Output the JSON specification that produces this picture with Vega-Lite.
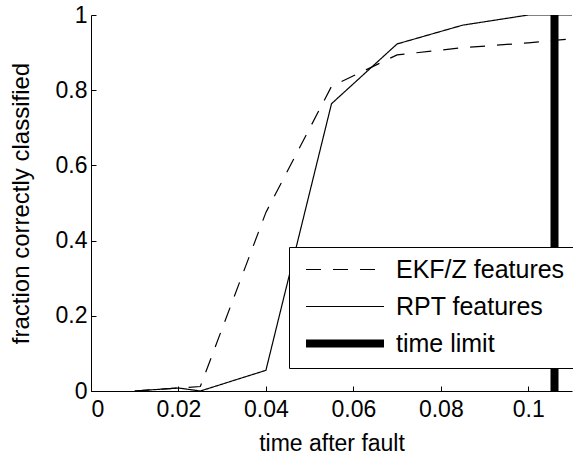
{
  "$schema": "https://vega.github.io/schema/vega-lite/v6.json",
  "width": 481,
  "height": 376,
  "autosize": {"type": "none"},
  "padding": {"left": 91, "top": 15, "right": 1, "bottom": 66},
  "background": "white",
  "config": {"view": {"stroke": null}, "font": "Liberation Sans"},
  "data": {
    "values": [
      {"t": 0.01, "f": 0.0, "s": "EKF/Z features"},
      {"t": 0.02, "f": 0.008, "s": "EKF/Z features"},
      {"t": 0.025, "f": 0.012, "s": "EKF/Z features"},
      {"t": 0.04, "f": 0.475, "s": "EKF/Z features"},
      {"t": 0.055, "f": 0.81, "s": "EKF/Z features"},
      {"t": 0.07, "f": 0.894, "s": "EKF/Z features"},
      {"t": 0.085, "f": 0.913, "s": "EKF/Z features"},
      {"t": 0.1, "f": 0.926, "s": "EKF/Z features"},
      {"t": 0.11, "f": 0.937, "s": "EKF/Z features"},
      {"t": 0.01, "f": 0.0, "s": "RPT features"},
      {"t": 0.02, "f": 0.008, "s": "RPT features"},
      {"t": 0.025, "f": 0.0, "s": "RPT features"},
      {"t": 0.04, "f": 0.055, "s": "RPT features"},
      {"t": 0.055, "f": 0.764, "s": "RPT features"},
      {"t": 0.07, "f": 0.923, "s": "RPT features"},
      {"t": 0.085, "f": 0.973, "s": "RPT features"},
      {"t": 0.1, "f": 1.0, "s": "RPT features"},
      {"t": 0.11, "f": 1.0, "s": "RPT features"},
      {"t": 0.106, "f": 0.0, "s": "time limit"},
      {"t": 0.106, "f": 1.0, "s": "time limit"}
    ]
  },
  "mark": {"type": "line", "color": "black", "strokeCap": "butt", "clip": true},
  "encoding": {
    "x": {
      "field": "t", "type": "quantitative",
      "scale": {"domain": [0, 0.11], "nice": false, "zero": false},
      "axis": {
        "title": "time after fault", "values": [0, 0.02, 0.04, 0.06, 0.08, 0.1], "format": "~g",
        "grid": false, "tickSize": -5, "tickColor": "black", "domainColor": "black",
        "labelFontSize": 23, "labelColor": "black", "labelPadding": 12,
        "titleFontSize": 23, "titleFontWeight": "normal", "titleColor": "black", "titlePadding": 11
      }
    },
    "y": {
      "field": "f", "type": "quantitative",
      "scale": {"domain": [0, 1], "nice": false},
      "axis": {
        "title": "fraction correctly classified", "values": [0, 0.2, 0.4, 0.6, 0.8, 1], "format": "~g",
        "grid": false, "tickSize": -5, "tickColor": "black", "domainColor": "black",
        "labelFontSize": 23, "labelColor": "black", "labelPadding": 9,
        "titleFontSize": 24, "titleFontWeight": "normal", "titleColor": "black", "titlePadding": 22
      }
    },
    "strokeDash": {
      "field": "s", "type": "ordinal",
      "scale": {"domain": ["EKF/Z features", "RPT features", "time limit"], "range": [[15, 12], [1, 0], [1, 0]]},
      "legend": {
        "title": null, "orient": "none", "legendX": 198, "legendY": 232,
        "symbolType": "stroke", "symbolSize": 6084, "symbolStrokeColor": "black",
        "labelFontSize": 25, "labelColor": "black", "labelLimit": 300,
        "fillColor": "white", "strokeColor": "black", "padding": 11, "rowPadding": 11,
        "clipHeight": 23, "symbolOffset": 2, "labelOffset": 8
      }
    },
    "strokeWidth": {
      "field": "s", "type": "ordinal",
      "scale": {"type": "ordinal", "domain": ["EKF/Z features", "RPT features", "time limit"], "range": [1.2, 1.2, 8]},
      "legend": {
        "title": null, "orient": "none", "legendX": 198, "legendY": 232,
        "symbolType": "stroke", "symbolSize": 6084, "symbolStrokeColor": "black",
        "labelFontSize": 25, "labelColor": "black", "labelLimit": 300,
        "fillColor": "white", "strokeColor": "black", "padding": 11, "rowPadding": 11,
        "clipHeight": 23, "symbolOffset": 2, "labelOffset": 8
      }
    }
  }
}
